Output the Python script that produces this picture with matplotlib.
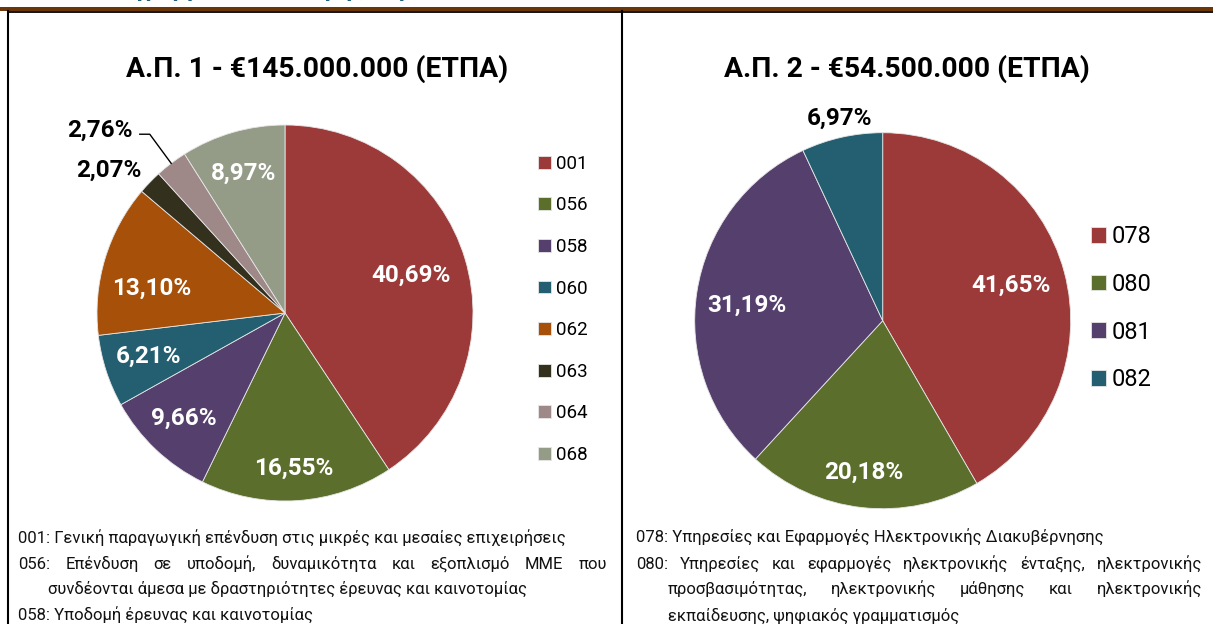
import matplotlib
matplotlib.use("Agg")
import matplotlib.pyplot as plt
import numpy as np

plt.rcParams['font.family'] = ['Roboto', 'DejaVu Sans']

# --- data ---
titles = ["Α.Π. 1 - €145.000.000 (ΕΤΠΑ)", "Α.Π. 2 - €54.500.000 (ΕΤΠΑ)"]

codes_1 = ["001", "056", "058", "060", "062", "063", "064", "068"]
shares_1 = [40.69, 16.55, 9.66, 6.21, 13.10, 2.07, 2.76, 8.97]
colors_1 = ["#9B3A39", "#5B6E2C", "#55406D", "#235F70", "#A6500A", "#33311E", "#9E8888", "#949C88"]

codes_2 = ["078", "080", "081", "082"]
shares_2 = [41.65, 20.18, 31.19, 6.97]
colors_2 = ["#9B3A39", "#5B6E2C", "#55406D", "#235F70"]

notes_1 = [
    ("001: Γενική παραγωγική επένδυση στις μικρές και μεσαίες επιχειρήσεις", False),
    ("056: Επένδυση σε υποδομή, δυναμικότητα και εξοπλισμό ΜΜΕ που", True),
    ("συνδέονται άμεσα με δραστηριότητες έρευνας και καινοτομίας", False),
    ("058: Υποδομή έρευνας και καινοτομίας", False),
]
notes_2 = [
    ("078: Υπηρεσίες και Εφαρμογές Ηλεκτρονικής Διακυβέρνησης", False),
    ("080: Υπηρεσίες και εφαρμογές ηλεκτρονικής ένταξης, ηλεκτρονικής", True),
    ("προσβασιμότητας, ηλεκτρονικής μάθησης και ηλεκτρονικής", True),
    ("εκπαίδευσης, ψηφιακός γραμματισμός", False),
]

# label placement (radius factor, angle shift in degrees, inside?)
lab_1 = [(0.703, 1.1, True), (0.815, -0.3, True), (0.769, -1.25, True), (0.757, -1.2, True),
         (0.722, 5.2, True), (1.215, 4.5, False), (1.394, 7.8, False), (0.788, 0.2, True)]
lab_2 = [(0.711, 1.6, True), (0.80, -0.8, True), (0.731, 1.4, True), (1.114, -0.65, False)]

W, H = 1213, 624
fig = plt.figure(figsize=(W / 100, H / 100), dpi=100)
bg = fig.add_axes([0, 0, 1, 1])
bg.set_xlim(0, W)
bg.set_ylim(H, 0)
bg.axis('off')

# frame lines
bg.fill_between([0, W], 7, 11, color="#6B3608", lw=0)
bg.plot([8, W], [11.8, 11.8], color="black", lw=1.3)
bg.plot([8, 8], [11, H], color="black", lw=1.5)
bg.plot([622, 622], [11, H], color="black", lw=1.5)
# heading of the page above, only its lowest strokes show
bg.text(95, -4, "Διαγράμματα κατανομής πόρων", fontsize=17, fontweight='bold',
        color="#1F5F7F", va='baseline', ha='left')


def fmt(v):
    return f"{v:.2f}%".replace('.', ',')


def draw_pie(cx, cy, r, vals, cols, labs):
    ax = fig.add_axes([(cx - r) / W, 1 - (cy + r) / H, 2 * r / W, 2 * r / H])
    wedges, _ = ax.pie(vals, colors=cols, startangle=90, counterclock=False, radius=1,
                       wedgeprops=dict(edgecolor="#e6e6e6", linewidth=0.6))
    ax.set_xlim(-1, 1)
    ax.set_ylim(-1, 1)
    ax.set_aspect('equal')
    ax.axis('off')
    for w, v, (rf, sh, inside) in zip(wedges, vals, labs):
        a = np.deg2rad((w.theta1 + w.theta2) / 2 + sh)
        ax.text(rf * np.cos(a), rf * np.sin(a), fmt(v), ha='center', va='center_baseline',
                fontsize=17.5, fontweight='bold', color='white' if inside else 'black')
    return ax, wedges


ax1, w1 = draw_pie(285, 313, 188, shares_1, colors_1, lab_1)
ax2, w2 = draw_pie(882.7, 320.7, 188, shares_2, colors_2, lab_2)

# leader line for the 2,76% slice
m = np.deg2rad((w1[6].theta1 + w1[6].theta2) / 2)
ex, ey = np.cos(m), np.sin(m)
ax1.plot([ex, ex - 0.114, ex - 0.167], [ey, ey + 0.155, ey + 0.155], color='black', lw=1, clip_on=False)

bg.text(316.7, 77.3, titles[0], ha='center', va='baseline', fontsize=20.3, fontweight='bold')
bg.text(906.7, 76.7, titles[1], ha='center', va='baseline', fontsize=20.3, fontweight='bold')

fig.legend(w1, codes_1, loc='upper left', bbox_to_anchor=(538 / W, 1 - 154.7 / H), frameon=False,
           fontsize=13.5, handlelength=0.67, handleheight=0.67, handletextpad=0.28,
           labelspacing=1.26, borderpad=0, borderaxespad=0)
fig.legend(w2, codes_2, loc='upper left', bbox_to_anchor=(1091 / W, 1 - 225 / H), frameon=False,
           fontsize=17, handlelength=0.64, handleheight=0.64, handletextpad=0.25,
           labelspacing=1.05, borderpad=0, borderaxespad=0)

renderer = fig.canvas.get_renderer()
NOTE_SIZE = 12.0


def put_line(text, x0, y, x1, justify):
    if not justify:
        bg.text(x0, y, text, fontsize=NOTE_SIZE, va='baseline', ha='left', color='#111111')
        return
    words = text.split(' ')
    objs = [bg.text(0, y, wd, fontsize=NOTE_SIZE, va='baseline', ha='left', color='#111111') for wd in words]
    widths = [o.get_window_extent(renderer).width for o in objs]
    gap = (x1 - x0 - sum(widths)) / (len(words) - 1)
    x = x0
    for o, wd in zip(objs, widths):
        o.set_x(x)
        x += wd + gap


baselines = [543, 569, 594, 620]
for i, (txt, just) in enumerate(notes_1):
    x0 = 18 if txt[:3].isdigit() else 48
    put_line(txt, x0, baselines[i], 607, just)
for i, (txt, just) in enumerate(notes_2):
    x0 = 636 if txt[:3].isdigit() else 668
    put_line(txt, x0, baselines[i], 1202, just)

fig.savefig("out.png", dpi=100)
